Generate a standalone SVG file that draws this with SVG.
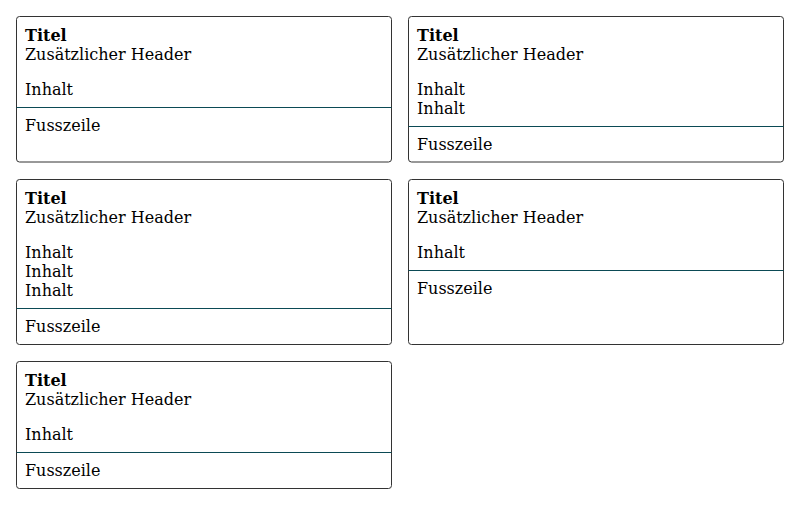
<svg xmlns="http://www.w3.org/2000/svg" width="800" height="505" viewBox="0 0 800 505">
<style>
.box{fill:#fff;stroke:#333;stroke-width:1}
.div{stroke:#0b4a55;stroke-width:1}
text{font-family:"DejaVu Serif",serif;font-size:16px;fill:#000}
.t{font-weight:bold}
</style>
<rect width="800" height="505" fill="#fff"/>
<g id="card1">
<rect class="box" x="16.5" y="16.5" width="375" height="145.5" rx="3"/>
<line class="div" x1="16.5" y1="107.5" x2="391.5" y2="107.5"/>
<text class="t" x="25" y="41">Titel</text>
<text x="25" y="60">Zusätzlicher Header</text>
<text x="25" y="95">Inhalt</text>
<text x="25" y="131">Fusszeile</text>
</g>
<g id="card2">
<rect class="box" x="408.5" y="16.5" width="375" height="145.5" rx="3"/>
<line class="div" x1="408.5" y1="126.5" x2="783.5" y2="126.5"/>
<text class="t" x="417" y="41">Titel</text>
<text x="417" y="60">Zusätzlicher Header</text>
<text x="417" y="95">Inhalt</text>
<text x="417" y="114">Inhalt</text>
<text x="417" y="150">Fusszeile</text>
</g>
<g id="card3">
<rect class="box" x="16.5" y="179.5" width="375" height="165" rx="3"/>
<line class="div" x1="16.5" y1="308.5" x2="391.5" y2="308.5"/>
<text class="t" x="25" y="204">Titel</text>
<text x="25" y="223">Zusätzlicher Header</text>
<text x="25" y="258">Inhalt</text>
<text x="25" y="277">Inhalt</text>
<text x="25" y="296">Inhalt</text>
<text x="25" y="332">Fusszeile</text>
</g>
<g id="card4">
<rect class="box" x="408.5" y="179.5" width="375" height="165" rx="3"/>
<line class="div" x1="408.5" y1="270.5" x2="783.5" y2="270.5"/>
<text class="t" x="417" y="204">Titel</text>
<text x="417" y="223">Zusätzlicher Header</text>
<text x="417" y="258">Inhalt</text>
<text x="417" y="294">Fusszeile</text>
</g>
<g id="card5">
<rect class="box" x="16.5" y="361.5" width="375" height="127" rx="3"/>
<line class="div" x1="16.5" y1="452.5" x2="391.5" y2="452.5"/>
<text class="t" x="25" y="386">Titel</text>
<text x="25" y="405">Zusätzlicher Header</text>
<text x="25" y="440">Inhalt</text>
<text x="25" y="476">Fusszeile</text>
</g>
<g id="connectors"/>
</svg>
